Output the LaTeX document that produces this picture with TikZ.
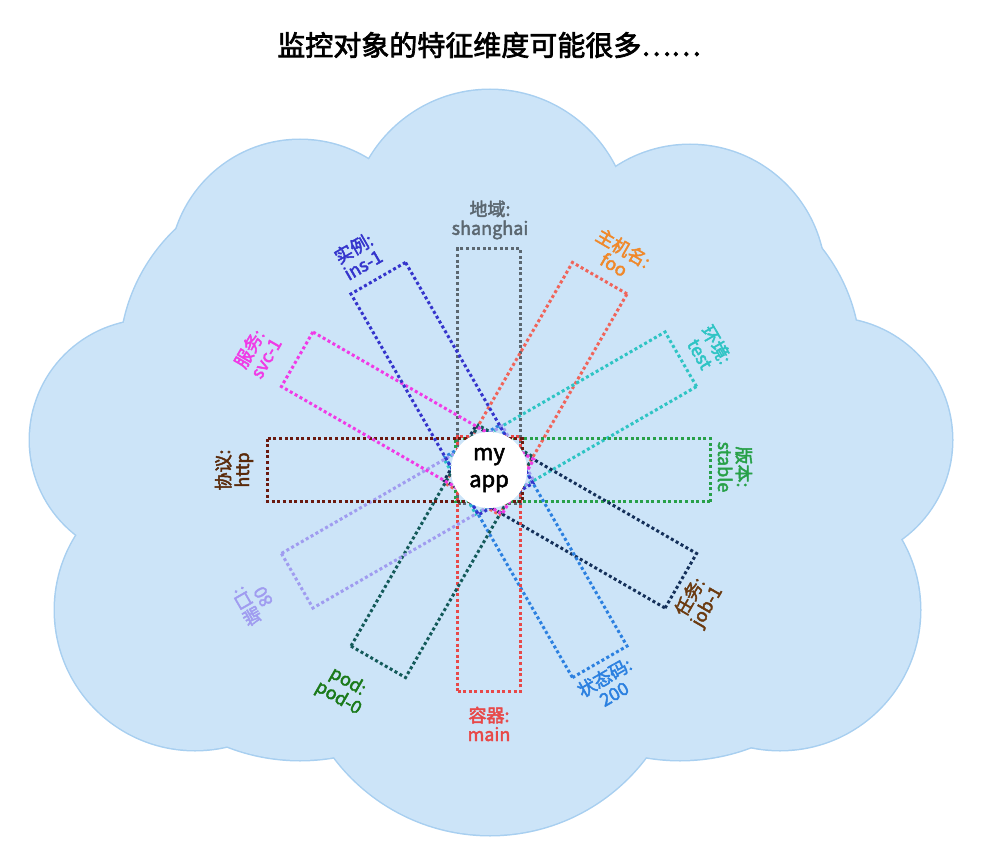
\documentclass[tikz,border=0pt]{standalone}
\usepackage{fontspec}
\usetikzlibrary{calc}
\newfontfamily\cjk{Noto Sans CJK SC}[FakeBold=2.5]
\begin{document}
\begin{tikzpicture}[x=1pt,y=-1pt,
  box/.style={draw=#1,line width=3pt,dash pattern=on 3pt off 2.6pt,minimum width=63pt,minimum height=255pt,inner sep=0pt},
  lab/.style={text=#1,font=\cjk\fontsize{18}{19}\selectfont,align=center,inner sep=0pt}]
\useasboundingbox (0,0) rectangle (988,848);
\definecolor{cloudf}{HTML}{CCE4F8}\definecolor{cloudb}{HTML}{A8CFF0}
\def\cloudlist{490/230/140, 300/270/130, 690/280/135, 150/440/120, 830/440/122, 195/610/140, 780/610/140, 490/640/195, 490/460/300, 300/560/200, 680/560/200, 300/360/180, 680/360/180}
\foreach \x/\y/\r in \cloudlist
  \draw[cloudb,line width=3pt] (\x,\y) circle (\r);
\foreach \x/\y/\r in \cloudlist
  \fill[cloudf] (\x,\y) circle (\r);
\node[font=\cjk\fontsize{28}{30}\selectfont] (title) at (489,45) {监控对象的特征维度可能很多……};
\coordinate (c) at (489,470);
\foreach \a/\col/\nm in {0/5B6770/b0, 30/F0645A/b1, 60/2EC4C4/b2, 90/27A048/b3, 120/14305A/b4, 150/2B80E0/b5, 180/E84848/b6, 210/135A5A/b7, 240/A09CF0/b8, 270/6A1A10/b9, 300/F03AE6/b10, 330/3434CC/b11}{
  \definecolor{bc}{HTML}{\col}
  \node[box=bc,rotate=-\a] (\nm) at ($(c)+({94*sin(\a)},{-94*cos(\a)})$) {};
}
\node[circle,fill=white,minimum size=76pt,inner sep=0pt,font=\cjk\fontsize{22}{27}\selectfont,align=center] (app) at (c) {my\\app};
\definecolor{l0}{HTML}{5B6770}\definecolor{l1}{HTML}{F0882A}\definecolor{l2}{HTML}{2EC4C4}
\definecolor{l3}{HTML}{27A048}\definecolor{l4}{HTML}{6B3A10}\definecolor{l5}{HTML}{2B80E0}
\definecolor{l6}{HTML}{E84848}\definecolor{l7}{HTML}{1A7A1A}\definecolor{l8}{HTML}{A09CF0}
\definecolor{l9}{HTML}{5A2A0A}\definecolor{l10}{HTML}{F03AE6}\definecolor{l11}{HTML}{3434CC}
\node[lab=l0] (t0) at (490,220) {地域:\\shanghai};
\node[lab=l1,rotate=-30] (t1) at (619,256) {主机名:\\foo};
\node[lab=l2,rotate=-60] (t2) at (709,349) {环境:\\test};
\node[lab=l3,rotate=-90] (t3) at (735,467) {版本:\\stable};
\node[lab=l4,rotate=60] (t4) at (699,602) {任务:\\job-1};
\node[lab=l5,rotate=30] (t5) at (609,685) {状态码:\\200};
\node[lab=l6] (t6) at (489,724) {容器:\\main};
\node[lab=l7,rotate=-30] (t7) at (343,690) {pod:\\pod-0};
\node[lab=l8,rotate=120] (t8) at (254,602) {端口:\\80};
\node[lab=l9,rotate=90] (t9) at (234,470) {协议:\\http};
\node[lab=l10,rotate=60] (t10) at (257,353) {服务:\\svc-1};
\node[lab=l11,rotate=30] (t11) at (358,256) {实例:\\ins-1};
\end{tikzpicture}
\end{document}
